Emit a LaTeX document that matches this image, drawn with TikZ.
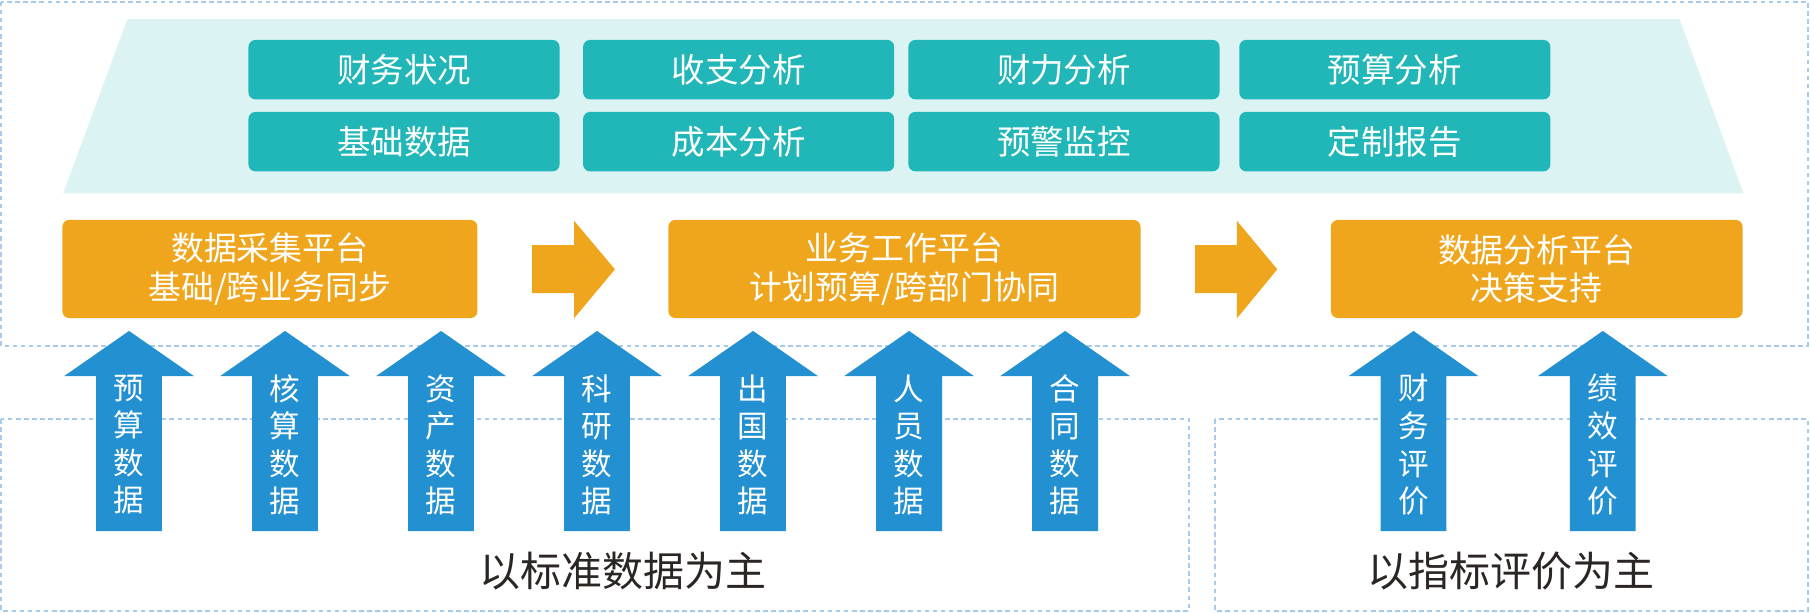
\documentclass[tikz,border=0pt]{standalone}
\usepackage{fontspec}
\setmainfont{Noto Sans CJK SC}
\definecolor{dashc}{HTML}{A8CBEB}
\definecolor{paleteal}{HTML}{DBF3F2}
\definecolor{tealc}{HTML}{21B6B7}
\definecolor{orangec}{HTML}{F0A61C}
\definecolor{bluec}{HTML}{2290D1}
\definecolor{darktext}{HTML}{2B2523}
\tikzset{
  dashbox/.style={draw=dashc, line width=1.6pt, dash pattern=on 4pt off 3pt},
  tealbox/.style={fill=tealc, rounded corners=6pt, text=white, inner sep=0pt,
    minimum height=51.5pt, minimum width=269.5pt, font=\fontsize{29}{34}\selectfont},
  orangebox/.style={fill=orangec, rounded corners=6pt, text=white, inner sep=0pt,
    minimum height=85pt, align=center, font=\fontsize{28.5}{33.5}\selectfont},
  orangearrow/.style={fill=orangec},
  bluearrow/.style={fill=bluec},
  vlabel/.style={text=white, align=center, inner sep=0pt, font=\fontsize{26.5}{32.5}\selectfont},
  bottomlabel/.style={text=darktext, inner sep=0pt, font=\fontsize{35.5}{40}\selectfont}
}
\newcommand\upbluearrow[3]{%
  \fill[bluearrow] (#1,286.7) -- ({#1+56.2},325.8) -- ({#1+28.5},325.8) -- ({#1+28.5},460)
    -- ({#1-28.5},460) -- ({#1-28.5},325.8) -- ({#1-56.2},325.8) -- cycle;
  \node[vlabel] (#2) at (#1,385.3) {#3};
}
\begin{document}
\begin{tikzpicture}[x=1pt,y=-1pt]
\useasboundingbox (0,0) rectangle (1568,531);
% dashed frames
\draw[dashbox] (1,1.4) rectangle (1566,299.5);
\draw[dashbox] (1,363) rectangle (1029.9,529);
\draw[dashbox] (1052.6,363) rectangle (1566,529);
% pale trapezoid
\fill[paleteal] (110.4,16.5) -- (1455,16.5) -- (1510.3,167.5) -- (54.7,167.5) -- cycle;
% teal boxes
\node[tealbox] (t11) at (350,60.35) {财务状况};
\node[tealbox] (t12) at (639.9,60.35) {收支分析};
\node[tealbox] (t13) at (921.7,60.35) {财力分析};
\node[tealbox] (t14) at (1208.3,60.35) {预算分析};
\node[tealbox] (t21) at (350,122.7) {基础数据};
\node[tealbox] (t22) at (639.9,122.7) {成本分析};
\node[tealbox] (t23) at (921.7,122.7) {预警监控};
\node[tealbox] (t24) at (1208.3,122.7) {定制报告};
% orange platforms
\node[orangebox, minimum width=359.6pt] (p1) at (233.8,233) {数据采集平台\\基础/跨业务同步};
\node[orangebox, minimum width=409pt] (p2) at (783.5,233) {业务工作平台\\计划预算/跨部门协同};
\node[orangebox, minimum width=356.6pt] (p3) at (1331.3,233) {数据分析平台\\决策支持};
% orange block arrows
\fill[orangearrow] (461,212.3) -- (497.3,212.3) -- (497.3,191.2) -- (532.7,233.3)
  -- (497.3,275.8) -- (497.3,254) -- (461,254) -- cycle;
\fill[orangearrow] (1035.3,212.3) -- (1071.5,212.3) -- (1071.5,191.2) -- (1106.5,233.3)
  -- (1071.5,275.8) -- (1071.5,254) -- (1035.3,254) -- cycle;
% blue arrows
\upbluearrow{111.8}{b1}{预\\算\\数\\据}
\upbluearrow{246.95}{b2}{核\\算\\数\\据}
\upbluearrow{382.1}{b3}{资\\产\\数\\据}
\upbluearrow{517.25}{b4}{科\\研\\数\\据}
\upbluearrow{652.4}{b5}{出\\国\\数\\据}
\upbluearrow{787.55}{b6}{人\\员\\数\\据}
\upbluearrow{922.7}{b7}{合\\同\\数\\据}
\upbluearrow{1224.5}{b8}{财\\务\\评\\价}
\upbluearrow{1388.5}{b9}{绩\\效\\评\\价}
% bottom labels
\node[bottomlabel] (l1) at (539.5,495) {以标准数据为主};
\node[bottomlabel] (l2) at (1309,495) {以指标评价为主};
\end{tikzpicture}
\end{document}
